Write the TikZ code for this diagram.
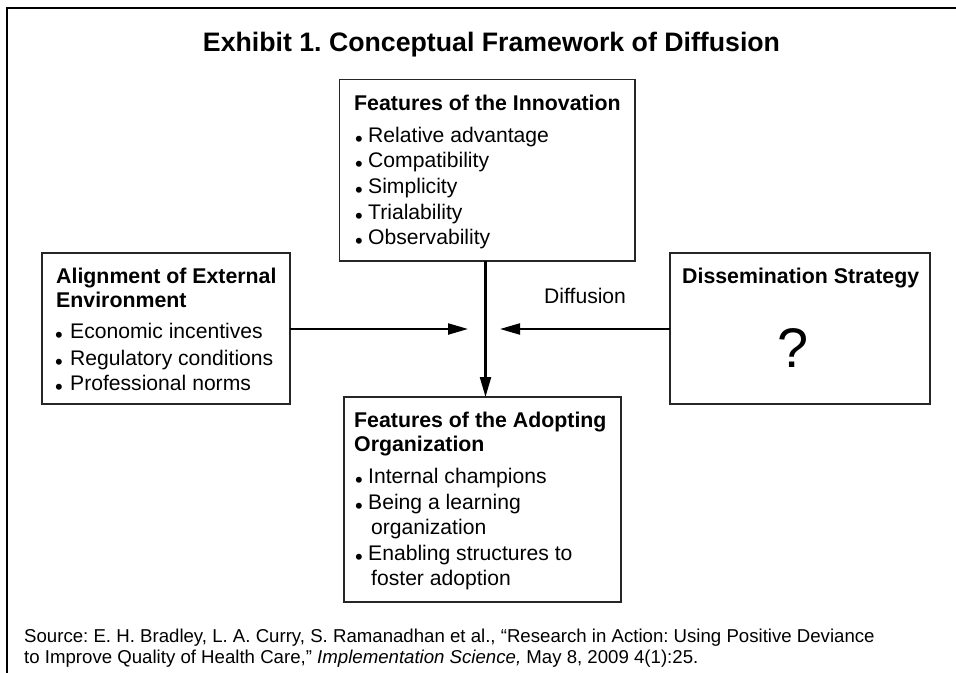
\documentclass[tikz,border=0pt]{standalone}
\usepackage{fontspec}
\setmainfont{Liberation Sans}
\frenchspacing
\usetikzlibrary{arrows.meta}
\begin{document}
\begin{tikzpicture}[x=1bp,y=-1bp,
  box/.style={draw=black!85, line width=1.3bp, inner sep=0, outer sep=0},
  txt/.style={anchor=base west, inner sep=0, font=\fontsize{21.2}{25.5}\selectfont},
  hd/.style={anchor=base west, inner sep=0, font=\fontsize{21.4}{25.5}\selectfont\bfseries},
  bul/.style={anchor=base, inner sep=0, font=\fontsize{22}{22}\selectfont},
  src/.style={anchor=base west, inner sep=0, font=\fontsize{18.7}{21}\selectfont},
  arr/.style={line width=2.2bp, -{Triangle[length=20bp,width=11bp]}}
]
\useasboundingbox (0,0) rectangle (956,673);
\draw[line width=1.5bp] (7,673) -- (7,8) -- (956,8);

% title
\node[anchor=base, inner sep=0, font=\fontsize{26.8}{30}\selectfont\bfseries] (title) at (491.5,52) {Exhibit 1. Conceptual Framework of Diffusion};

% boxes
\node[box, minimum width=295.5bp, minimum height=181.5bp] (innov) at (487.25,170.25) {};
\node[box, minimum width=248bp, minimum height=151bp] (align) at (166,328.5) {};
\node[box, minimum width=260bp, minimum height=151bp] (dissem) at (800,328.5) {};
\node[box, minimum width=277bp, minimum height=205bp] (adopt) at (482.5,499.5) {};

% innovation box text
\node[hd] (i0) at (354,111) {Features of the Innovation};
\node[bul] (ib1) at (359,147) {•}; \node[txt] (i1) at (368,143) {Relative advantage};
\node[bul] (ib2) at (359,172) {•}; \node[txt] (i2) at (368,168) {Compatibility};
\node[bul] (ib3) at (359,197) {•}; \node[txt] (i3) at (368,193) {Simplicity};
\node[bul] (ib4) at (359,223) {•}; \node[txt] (i4) at (368,219) {Trialability};
\node[bul] (ib5) at (359,248) {•}; \node[txt] (i5) at (368,244) {Observability};

% alignment box text
\node[hd] (a0) at (56,283) {Alignment of External};
\node[hd] (a0b) at (56,307) {Environment};
\node[bul] (ab1) at (59,342) {•}; \node[txt] (a1) at (70,338) {Economic incentives};
\node[bul] (ab2) at (59,369) {•}; \node[txt] (a2) at (70,365) {Regulatory conditions};
\node[bul] (ab3) at (59,394) {•}; \node[txt] (a3) at (70,390) {Professional norms};

% dissemination box text
\node[hd] (d0) at (682,283) {Dissemination Strategy};
\node[anchor=base, inner sep=0, font=\fontsize{56}{60}\selectfont] (q) at (793,367) {?};

% adopting box text
\node[hd] (o0) at (354,427) {Features of the Adopting};
\node[hd] (o0b) at (354,451) {Organization};
\node[bul] (ob1) at (359,487) {•}; \node[txt] (o1) at (368,483) {Internal champions};
\node[bul] (ob2) at (359,513) {•}; \node[txt] (o2) at (368,509) {Being a learning};
\node[txt] (o2b) at (371,534) {organization};
\node[bul] (ob3) at (359,564) {•}; \node[txt] (o3) at (368,560) {Enabling structures to};
\node[txt] (o3b) at (371,585) {foster adoption};

% arrows
\coordinate (c) at (485.5,329);
\coordinate (lt) at (468,329);
\coordinate (rt) at (500,329);
\draw[arr] (innov.south -| c) -- (adopt.north -| c);
\draw[arr] (align.east |- c) -- (lt);
\draw[arr] (dissem.west |- c) -- (rt);
\node[txt] (diff) at (544,303) {Diffusion};

% source
\node[src] (s1) at (24,642) {Source: E. H. Bradley, L. A. Curry, S. Ramanadhan et al., “Research in Action: Using Positive Deviance};
\node[src] (s2) at (24,663) {to Improve Quality of Health Care,” \textit{Implementation Science,} May 8, 2009 4(1):25.};
\end{tikzpicture}
\end{document}
